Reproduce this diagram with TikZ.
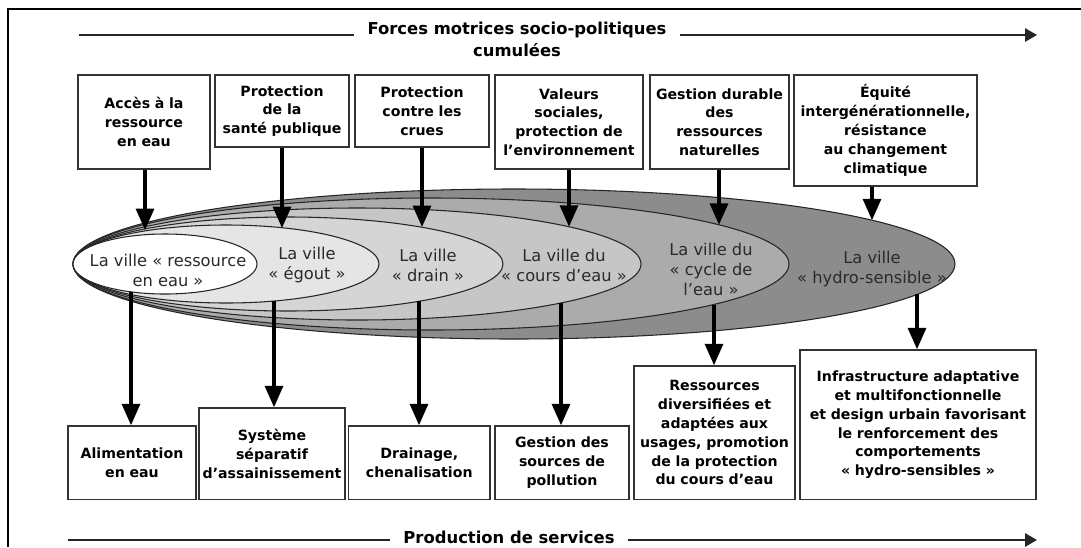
\documentclass[tikz,border=0pt]{standalone}
\usepackage{fontspec}
\setmainfont{DejaVu Sans}
\usetikzlibrary{arrows.meta,shapes.geometric}

\definecolor{zoneF}{HTML}{8C8C8C}
\definecolor{zoneE}{HTML}{ABABAB}
\definecolor{zoneD}{HTML}{C6C6C6}
\definecolor{zoneC}{HTML}{D5D5D5}
\definecolor{zoneB}{HTML}{E5E5E5}
\definecolor{zoneA}{HTML}{FFFFFF}
\definecolor{ink}{HTML}{2A2A2A}

\begin{document}
\begin{tikzpicture}[x=0.75pt,y=-0.75pt,
  box/.style={draw=black!80,line width=1.2pt,fill=white,align=center,
    inner xsep=0pt,inner ysep=0pt,font=\bfseries\fontsize{10.6}{14.1}\selectfont},
  zone/.style={ellipse,draw=black!85,line width=0.8pt,inner sep=0pt},
  lab/.style={align=center,inner sep=0pt,text=ink,font=\fontsize{12.2}{15}\selectfont},
  flow/.style={line width=2.3pt,-{Triangle[length=16pt,width=13.5pt]}},
  axis/.style={line width=1.4pt,draw=black!85},
  axistip/.style={axis,-{Triangle[length=9pt,width=10pt]}},
  heading/.style={font=\bfseries\fontsize{12.3}{16.5}\selectfont,align=center,
    inner ysep=0pt,inner xsep=10pt}]

\useasboundingbox (0,0) rectangle (1081,547);
\fill[white] (0,0) rectangle (1081,547);

% outer frame
\draw[line width=1.6pt] (8,547) -- (8,9) -- (1081,9);

% heading with its axis
\node[heading] (drivers) at (517,39.5) {Forces motrices socio-politiques\\cumulées};
\coordinate (dl) at (79,35);
\coordinate (dr) at (1037,35);
\draw[axis] (dl) -- (dl -| drivers.west);
\draw[axistip] (dr -| drivers.east) -- (dr);

% nested city models
\node[zone,fill=zoneF,minimum width=661.5pt,minimum height=112.5pt] (e6) at (514,264) {};
\node[zone,fill=zoneE,minimum width=537pt,minimum height=99pt] (e5) at (431,264) {};
\node[zone,fill=zoneD,minimum width=426pt,minimum height=84pt] (e4) at (357,264) {};
\node[zone,fill=zoneC,minimum width=322.5pt,minimum height=70.5pt] (e3) at (288,264) {};
\node[zone,fill=zoneB,minimum width=229.5pt,minimum height=58.5pt] (e2) at (226,264) {};
\node[zone,fill=zoneA,minimum width=138pt,minimum height=45pt] (e1) at (165,264) {};

\node[lab] (l1) at (168,270) {La ville « ressource\\en eau »};
\node[lab] (l2) at (307,265) {La ville\\« égout »};
\node[lab] (l3) at (428,265) {La ville\\« drain »};
\node[lab] (l4) at (564,265) {La ville du\\« cours d’eau »};
\node[lab] (l5) at (711,269) {La ville du\\« cycle de\\l’eau »};
\node[lab] (l6) at (872,269) {La ville\\« hydro-sensible »};

% driving forces
\node[box,text width=98.6pt,minimum height=70.9pt] (b1) at (144,122) {Accès à la\\ressource\\en eau};
\node[box,text width=100.5pt,minimum height=54pt] (b2) at (282,111) {Protection\\de la\\santé publique};
\node[box,text width=100.5pt,minimum height=54pt] (b3) at (422,111) {Protection\\contre les\\crues};
\node[box,text width=111pt,minimum height=70.5pt] (b4) at (569,122) {Valeurs\\sociales,\\protection de\\l’environnement};
\node[box,text width=104.25pt,minimum height=70.5pt] (b5) at (719.5,122) {Gestion durable\\des\\ressources\\naturelles};
\node[box,text width=137.25pt,minimum height=83.25pt] (b6) at (885.5,130.5) {Équité\\intergénérationnelle,\\résistance\\au changement\\climatique};

% services produced
\node[box,text width=96pt,minimum height=55.1pt] (c1) at (132,462.75) {Alimentation\\en eau};
\node[box,text width=109.5pt,minimum height=68.6pt] (c2) at (272,453.75) {Système\\séparatif\\d’assainissement};
\node[box,text width=106.1pt,minimum height=55.1pt] (c3) at (419.25,462.75) {Drainage,\\chenalisation};
\node[box,text width=100.5pt,minimum height=55.1pt] (c4) at (562,462.75) {Gestion des\\sources de\\pollution};
\node[box,text width=120.75pt,minimum height=100.1pt] (c5) at (714.5,432.75) {Ressources\\diversifiées et\\adaptées aux\\usages, promotion\\de la protection\\du cours d’eau};
\node[box,text width=177pt,minimum height=112.1pt] (c6) at (918,424.75) {Infrastructure adaptative\\et multifonctionnelle\\et design urbain favorisant\\le renforcement des\\comportements\\« hydro-sensibles »};

% arrows from the driving forces onto the models
\coordinate (t1) at (145,230);
\coordinate (t2) at (282,228);
\coordinate (t3) at (422,227);
\coordinate (t4) at (569,226.7);
\coordinate (t5) at (719,224.8);
\coordinate (t6) at (872,220.2);
\draw[flow] (b1.south -| t1) -- (t1);
\draw[flow] (b2.south -| t2) -- (t2);
\draw[flow] (b3.south -| t3) -- (t3);
\draw[flow] (b4.south -| t4) -- (t4);
\draw[flow] (b5.south -| t5) -- (t5);
\draw[flow] (b6.south -| t6) -- (t6);

% arrows from the models down to the services
\coordinate (s1) at (131,292);
\coordinate (s2) at (274,301);
\coordinate (s3) at (419,301.3);
\coordinate (s4) at (561,303);
\coordinate (s5) at (714,304.5);
\coordinate (s6) at (917,294.4);
\draw[flow] (s1) -- (s1 |- c1.north);
\draw[flow] (s2) -- (s2 |- c2.north);
\draw[flow] (s3) -- (s3 |- c3.north);
\draw[flow] (s4) -- (s4 |- c4.north);
\draw[flow] (s5) -- (s5 |- c5.north);
\draw[flow] (s6) -- (s6 |- c6.north);

% bottom axis
\node[heading,anchor=base] (services) at (509,543.5) {Production de services};
\coordinate (pl) at (68,540);
\coordinate (pr) at (1037,540);
\draw[axis] (pl) -- (pl -| services.west);
\draw[axistip] (pr -| services.east) -- (pr);
\end{tikzpicture}
\end{document}
